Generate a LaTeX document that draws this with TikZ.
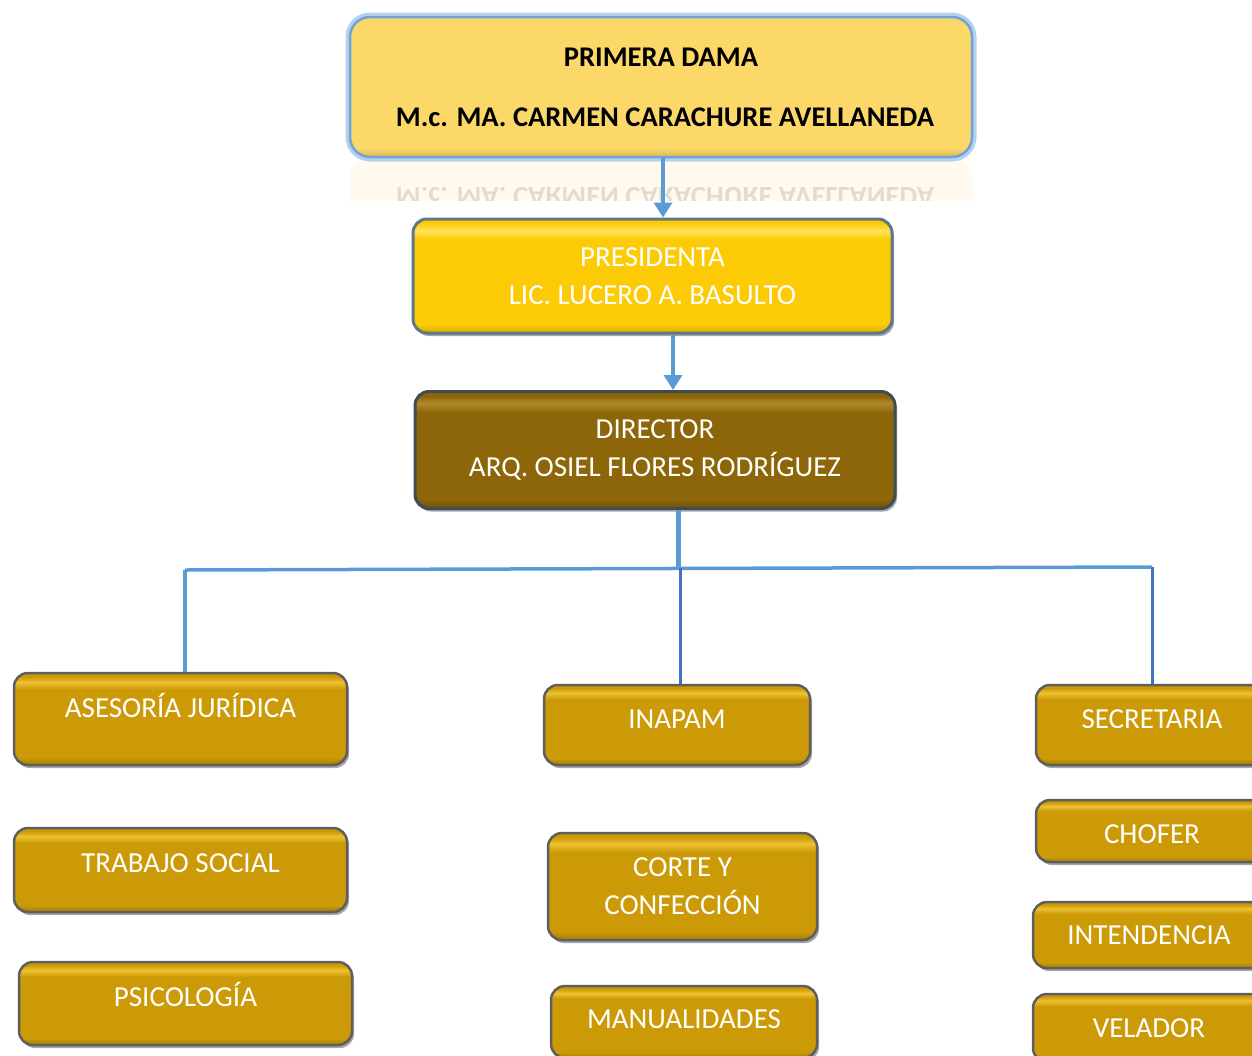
\documentclass[tikz,border=0pt]{standalone}
\usepackage{fontspec}
\setmainfont{Carlito}
\usetikzlibrary{arrows.meta,shadows,calc}
\definecolor{topfill}{HTML}{FCD869}
\definecolor{topbot}{HTML}{D9B656}
\definecolor{topglow}{HTML}{B5D1EE}
\definecolor{topedge}{HTML}{6FA2DA}
\definecolor{presfill}{HTML}{FDCB05}
\definecolor{prestop}{HTML}{FFE35A}
\definecolor{presbot}{HTML}{D9AE05}
\definecolor{presedge}{HTML}{5F7888}
\definecolor{dirfill}{HTML}{8C6608}
\definecolor{dirtop}{HTML}{B08A2A}
\definecolor{dirbot}{HTML}{6E5006}
\definecolor{diredge}{HTML}{3F4B57}
\definecolor{lowfill}{HTML}{CB9A06}
\definecolor{lowtop}{HTML}{EEC232}
\definecolor{lowbot}{HTML}{A57A04}
\definecolor{lowedge}{HTML}{5E5E5E}
\definecolor{linecol}{HTML}{5B9BD5}
\definecolor{linedark}{HTML}{4472C4}
\pgfdeclareverticalshading{lowshade}{100bp}{color(0bp)=(lowbot); color(25bp)=(lowbot); color(29bp)=(lowfill); color(66bp)=(lowfill); color(70bp)=(lowtop); color(73bp)=(lowfill); color(100bp)=(lowfill)}
\pgfdeclareverticalshading{presshade}{100bp}{color(0bp)=(presbot); color(25bp)=(presbot); color(29bp)=(presfill); color(66bp)=(presfill); color(70bp)=(prestop); color(73bp)=(presfill); color(100bp)=(presfill)}
\pgfdeclareverticalshading{dirshade}{100bp}{color(0bp)=(dirbot); color(25bp)=(dirbot); color(29bp)=(dirfill); color(66bp)=(dirfill); color(70bp)=(dirtop); color(73bp)=(dirfill); color(100bp)=(dirfill)}
\pgfdeclareverticalshading{topshade}{100bp}{color(0bp)=(topbot); color(25bp)=(topbot); color(28bp)=(topfill); color(100bp)=(topfill)}
\begin{document}
\begin{tikzpicture}[x=1pt,y=-1pt,
  base/.style={rounded corners=14pt, text=white, align=center, inner sep=0pt,
    font=\fontsize{29}{38}\selectfont},
  single/.style={text height=18.7pt, text depth=#1},
  single/.default=0pt,
  lower/.style={text height=24.7pt, text depth=0pt},
  shad/.style={drop shadow={shadow xshift=2pt, shadow yshift=-3pt, opacity=0.35, fill=black}},
  lowbox/.style={base, shad, draw=lowedge, line width=2.5pt, shading=lowshade},
  presbox/.style={base, shad, draw=presedge, line width=3pt, shading=presshade},
  dirbox/.style={base, shad, draw=diredge, line width=3pt, shading=dirshade},
  topbox/.style={rounded corners=20pt, inner sep=0pt, align=center, text=black,
    font=\fontsize{28.5}{60}\selectfont\bfseries},
  arr/.style={draw=linecol, line width=4.5pt, -{Triangle[width=18pt,length=15pt]}},
  conn/.style={draw=linecol, line width=3.5pt},
  trunk/.style={draw=linecol, line width=5pt},
  conn2/.style={draw=linedark, line width=3pt}
]
\useasboundingbox (0,0) rectangle (1252,1055);
\clip (0,0) rectangle (1252,1055);

% reflection of the top box
\begin{scope}
  \clip (345,158) rectangle (980,200);
  \begin{scope}[shift={(0,314)}, yscale=-1, transform shape, opacity=0.12]
    \node[topbox, fill=topfill, minimum width=622pt, minimum height=140pt] (refl) at (661,87)
      {PRIMERA DAMA\\ \hspace*{8pt}M.c. MA. CARMEN CARACHURE AVELLANEDA};
  \end{scope}
\end{scope}

% top box
\node[topbox, fill=topfill, minimum width=622pt, minimum height=140pt,
  draw=topglow, line width=9pt] (top) at (661,87) {\phantom{X}};
\node[topbox, shading=topshade, minimum width=622pt, minimum height=140pt,
  draw=topedge, line width=2.5pt] (topb) at (661,87)
  {PRIMERA DAMA\\ \hspace*{8pt}M.c. MA. CARMEN CARACHURE AVELLANEDA};

\node[presbox, minimum width=479pt, minimum height=114pt] (pres) at (652.5,276)
  {PRESIDENTA\\ LIC. LUCERO A. BASULTO};
\node[dirbox, minimum width=480pt, minimum height=117pt] (dir) at (655,450)
  {DIRECTOR\\ ARQ. OSIEL FLORES RODRÍGUEZ};

% left column
\node[lowbox, single=22pt, minimum width=333pt, minimum height=92pt] (ases) at (180.5,719) {ASESORÍA JURÍDICA};
\node[lowbox, single=14pt, minimum width=333pt, minimum height=84pt] (trab) at (180.5,870) {TRABAJO SOCIAL};
\node[lowbox, single=13pt, minimum width=333pt, minimum height=83pt] (psic) at (185.5,1003.5) {PSICOLOGÍA};

% middle column
\node[lowbox, single=12pt, minimum width=266pt, minimum height=80pt] (inap) at (677,725) {INAPAM};
\node[lowbox, minimum width=269pt, minimum height=107pt] (corte) at (682.5,886.5) {CORTE Y\\ CONFECCIÓN};
\node[lowbox, single=6pt, minimum width=266pt, minimum height=72pt] (manu) at (684,1022) {MANUALIDADES};

% right column
\node[lowbox, single=12pt, minimum width=232pt, minimum height=80pt] (secr) at (1152,725) {SECRETARIA};
\node[lowbox, lower, minimum width=232pt, minimum height=62pt] (chof) at (1152,831) {CHOFER};
\node[lowbox, single, minimum width=232pt, minimum height=66pt] (inte) at (1149,935) {INTENDENCIA};
\node[lowbox, single, minimum width=232pt, minimum height=68pt] (vela) at (1149,1028) {VELADOR};

% connectors
\draw[arr] ([xshift=2pt]topb.south) -- ([xshift=2pt]topb.south |- pres.north);
\draw[arr] ([xshift=20.5pt]pres.south) -- ([xshift=20.5pt]pres.south |- dir.north);
\coordinate (hub) at ($(dir.south)+(23,59)$);
\coordinate (hl) at (185,570);
\coordinate (hr) at (1152,567);
\coordinate (hm) at (680,568);
\draw[trunk] ([xshift=23pt]dir.south) -- (hub);
\draw[conn] (hl) -- (hr);
\draw[conn] (hl) -- (hl |- ases.north);
\draw[conn2] (hm) -- (hm |- inap.north);
\draw[conn2] (hr) -- (hr |- secr.north);
\end{tikzpicture}
\end{document}
